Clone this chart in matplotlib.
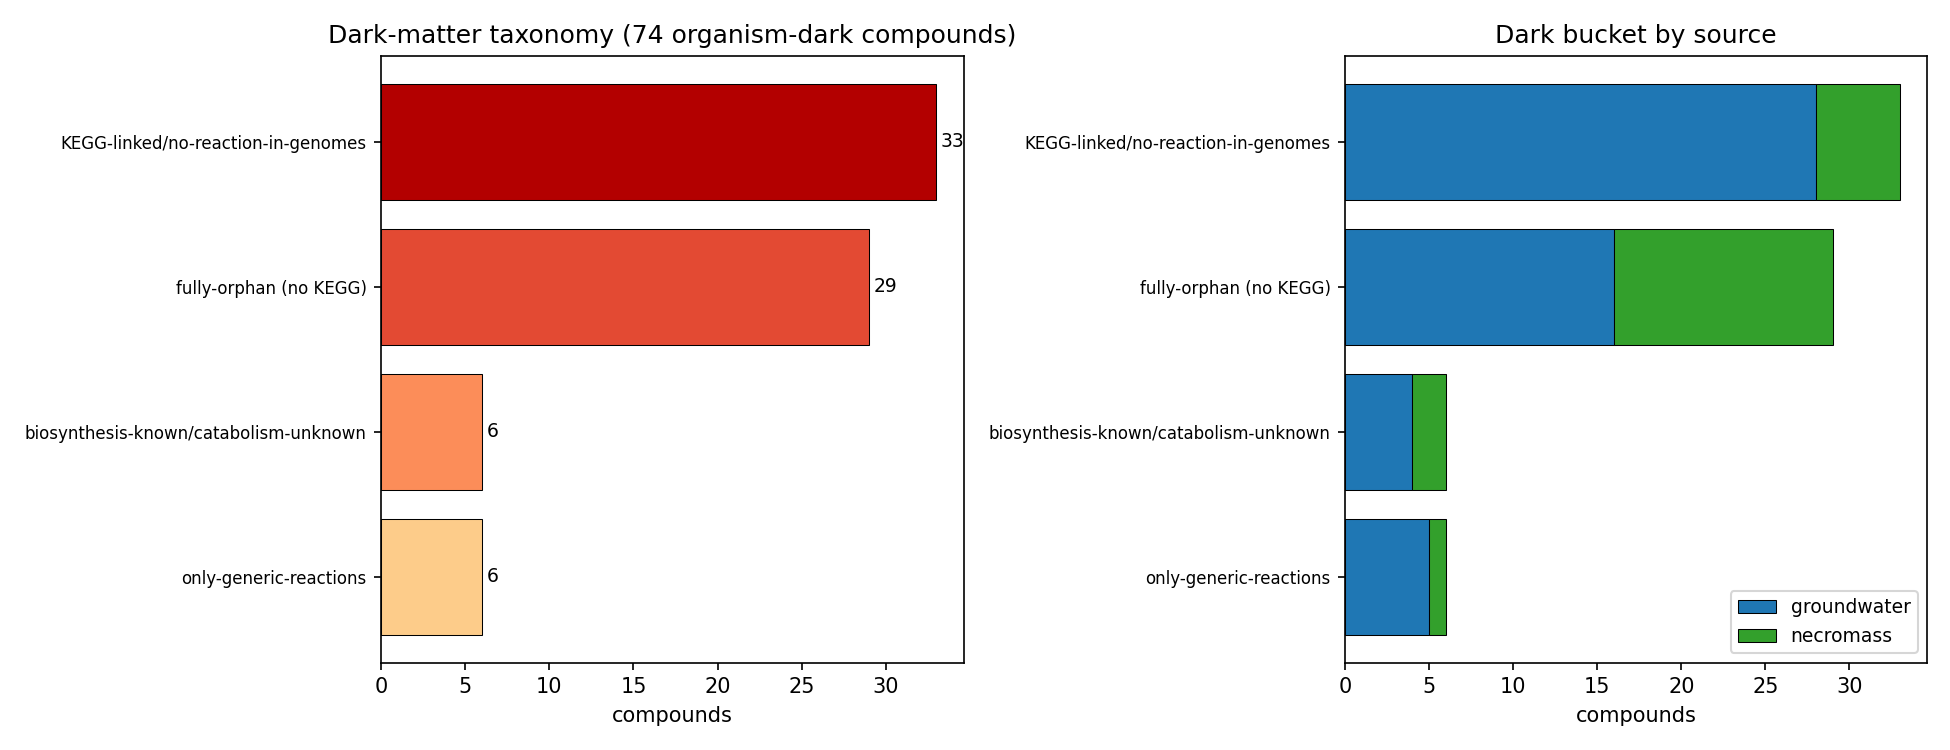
import matplotlib
matplotlib.use("Agg")
import matplotlib.pyplot as plt
import numpy as np

categories = ['KEGG-linked/no-reaction-in-genomes', 'fully-orphan (no KEGG)',
              'biosynthesis-known/catabolism-unknown', 'only-generic-reactions']
totals = [33, 29, 6, 6]
groundwater = [28, 16, 4, 5]
necromass = [5, 13, 2, 1]
bucket_colors = ['#b30000', '#e34a33', '#fc8d59', '#fdcc8a']

fig, (ax1, ax2) = plt.subplots(1, 2, figsize=(13, 5))

y = np.arange(len(categories))

# left: taxonomy counts
ax1.barh(y, totals, color=bucket_colors, edgecolor='black', linewidth=0.5)
for yi, v in zip(y, totals):
    ax1.text(v + 0.3, yi, str(v), va='center', fontsize=9)
ax1.set_yticks(y)
ax1.set_yticklabels(categories, fontsize=8)
ax1.invert_yaxis()
ax1.set_xlabel('compounds')
ax1.set_title('Dark-matter taxonomy (74 organism-dark compounds)')

# right: stacked by source
ax2.barh(y, groundwater, color='#1f77b4', edgecolor='black', linewidth=0.5, label='groundwater')
ax2.barh(y, necromass, left=groundwater, color='#33a02c', edgecolor='black', linewidth=0.5, label='necromass')
ax2.set_yticks(y)
ax2.set_yticklabels(categories, fontsize=8)
ax2.invert_yaxis()
ax2.set_xlabel('compounds')
ax2.set_title('Dark bucket by source')
ax2.legend(loc='lower right', fontsize=9)

plt.tight_layout()
plt.savefig('out.png', dpi=150)
